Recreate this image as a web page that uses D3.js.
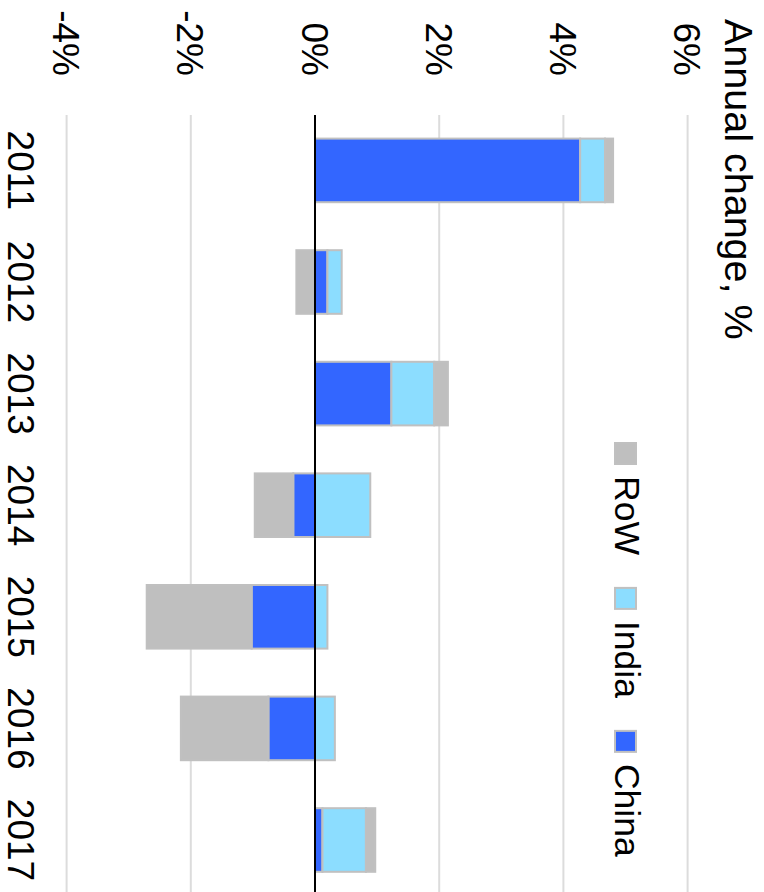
<!DOCTYPE html>
<html>
<head>
<meta charset="utf-8">
<script src="https://cdn.jsdelivr.net/npm/d3@7"></script>
<style>
  body { margin: 0; background: #fff; }
  text { font-family: 'Liberation Sans', Arial, Helvetica, sans-serif; fill: #000; }
</style>
</head>
<body>
<div id="main"></div>
<script>
var years = ['2011', '2012', '2013', '2014', '2015', '2016', '2017']
var china = [4.27, 0.20, 1.23, -0.35, -1.02, -0.75, 0.12]
var india = [0.40, 0.23, 0.69, 0.89, 0.20, 0.32, 0.70]
var row = [0.13, -0.30, 0.22, -0.62, -1.69, -1.41, 0.15]
var yTicks = [-4, -2, 0, 2, 4, 6]
var keys = ['China', 'India', 'RoW']
var legendKeys = ['RoW', 'India', 'China']
var colors = { China: '#3366ff', India: '#8cddff', RoW: '#bfbfbf' }

var W = 764, H = 892

var svg = d3.select('#main')
  .append('svg')
  .attr('width', W)
  .attr('height', H)

// chart is drawn upright, then turned a quarter clockwise
var g = svg.append('g')
  .attr('transform', `translate(${W},0) rotate(90)`)

var rows = years.map((y, i) => ({ year: y, China: china[i], India: india[i], RoW: row[i] }))

var x = d3.scaleBand()
  .domain(years)
  .range([114.6, 895.8])
  .paddingInner(0.43)
  .paddingOuter(0.215)

var y = d3.scaleLinear()
  .domain([-4, 6])
  .range([697.4, 76.4])

g.selectAll('line.grid')
  .data(yTicks.filter(d => d !== 0))
  .enter()
  .append('line')
    .attr('class', 'grid')
    .attr('x1', 115)
    .attr('x2', H)
    .attr('y1', d => y(d))
    .attr('y2', d => y(d))
    .attr('stroke', '#dcdcdc')
    .attr('stroke-width', 2)

g.selectAll('text.tick')
  .data(yTicks)
  .enter()
  .append('text')
    .attr('class', 'tick')
    .attr('x', 76)
    .attr('y', d => y(d))
    .attr('dy', '0.36em')
    .attr('text-anchor', 'end')
    .style('font-size', '37px')
    .text(d => d + '%')

var series = d3.stack()
  .keys(keys)
  .offset(d3.stackOffsetDiverging)(rows)

g.selectAll('g.series')
  .data(series)
  .enter()
  .append('g')
    .attr('class', 'series')
    .attr('fill', d => colors[d.key])
  .selectAll('rect')
  .data(d => d)
  .enter()
  .append('rect')
    .attr('x', d => x(d.data.year))
    .attr('width', x.bandwidth())
    .attr('y', d => y(Math.max(d[0], d[1])))
    .attr('height', d => Math.abs(y(d[0]) - y(d[1])))
    .attr('stroke', '#c0c0c0')
    .attr('stroke-width', 2)

g.append('line')
  .attr('x1', 115)
  .attr('x2', H)
  .attr('y1', y(0))
  .attr('y2', y(0))
  .attr('stroke', '#000')
  .attr('stroke-width', 2)

g.selectAll('text.year')
  .data(years)
  .enter()
  .append('text')
    .attr('class', 'year')
    .attr('x', d => x(d) + x.bandwidth() / 2)
    .attr('y', 756)
    .attr('text-anchor', 'middle')
    .style('font-size', '37px')
    .text(d => d)

g.append('text')
  .attr('x', 19)
  .attr('y', 39)
  .style('font-size', '39.5px')
  .text('Annual change, %')

var legend = g.append('g')
  .attr('transform', 'translate(442, 127)')

var lx = 0
legendKeys.forEach(function (k) {
  var item = legend.append('g')
    .attr('transform', `translate(${lx}, 0)`)
  item.append('rect')
    .attr('x', 1)
    .attr('y', 1)
    .attr('width', 21)
    .attr('height', 21)
    .attr('fill', colors[k])
    .attr('stroke', '#c0c0c0')
    .attr('stroke-width', 2)
  var t = item.append('text')
    .attr('x', 34)
    .attr('y', 22)
    .style('font-size', '35.5px')
    .text(k)
  lx += 34 + t.node().getComputedTextLength() + 32
})
</script>
</body>
</html>
